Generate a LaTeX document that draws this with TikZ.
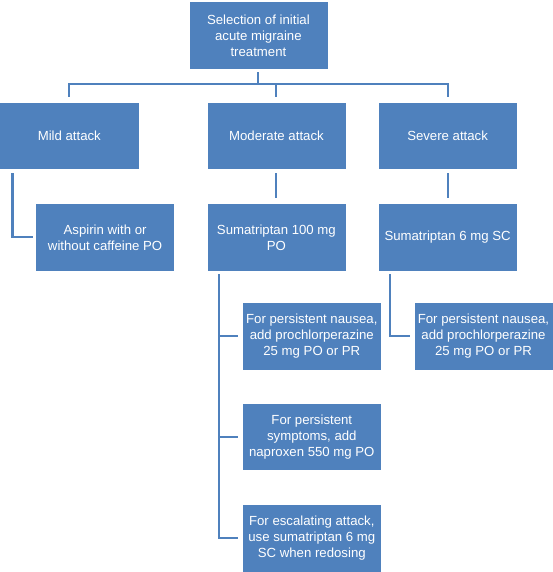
\documentclass[tikz,border=0pt]{standalone}
\usepackage{fontspec}
\setmainfont{Liberation Sans}
\definecolor{boxblue}{HTML}{4F81BD}
\begin{document}
\begin{tikzpicture}[x=1pt,y=-1pt,
  box/.style={rectangle, fill=boxblue, draw=white, line width=0.6pt,
    minimum width=139pt, minimum height=67.5pt, inner sep=2pt,
    align=center, text=white, font=\fontsize{13.2pt}{15.9pt}\selectfont},
  conn/.style={draw=boxblue, line width=2.1pt}]
\useasboundingbox (0,0) rectangle (553,572);
\node[box] (top) at (258.4,35.4) {Selection of initial\\acute migraine\\treatment};
\node[box] (mild) at (69.3,136) {Mild attack};
\node[box] (moderate) at (276.4,136) {Moderate attack};
\node[box] (severe) at (447.6,136) {Severe attack};
\node[box] (aspirin) at (105.1,237.4) {Aspirin with or\\without caffeine PO};
\node[box] (sum100) at (276.4,237.4) {Sumatriptan 100 mg\\PO};
\node[box] (sum6) at (447.6,237.4) {Sumatriptan 6 mg SC};
\node[box] (naus1) at (311.8,336.2) {For persistent nausea,\\add prochlorperazine\\25 mg PO or PR};
\node[box] (naus2) at (483.5,336.2) {For persistent nausea,\\add prochlorperazine\\25 mg PO or PR};
\node[box] (symp) at (311.8,436.7) {For persistent\\symptoms, add\\naproxen 550 mg PO};
\node[box] (esc) at (311.8,538.4) {For escalating attack,\\use sumatriptan 6 mg\\SC when redosing};
\coordinate (bus) at (0,84);
% top level tree
\draw[conn, shorten <=2.7pt, shorten >=4.6pt] (top.south) -- (top.south |- bus) -| (mild.north);
\draw[conn, shorten >=4.6pt] (top.south |- bus) -| (severe.north);
\draw[conn, shorten >=4.6pt] (moderate.north |- bus) -- (moderate.north);
% mild
\draw[conn, shorten <=3pt, shorten >=2.8pt] ([xshift=13pt]mild.south west) |- (aspirin.west);
% moderate / severe
\draw[conn, shorten <=3pt, shorten >=5.4pt] (moderate.south) -- (sum100.north);
\draw[conn, shorten <=3pt, shorten >=5.4pt] (severe.south) -- (sum6.north);
% moderate trunk
\draw[conn, shorten <=3pt, shorten >=4pt] ([xshift=12.4pt]sum100.south west) |- (esc.west);
\draw[conn, shorten >=4pt] ([xshift=12.4pt]sum100.south west |- naus1.west) -- (naus1.west);
\draw[conn, shorten >=4pt] ([xshift=12.4pt]sum100.south west |- symp.west) -- (symp.west);
% severe trunk
\draw[conn, shorten <=3pt, shorten >=3.5pt] ([xshift=12.5pt]sum6.south west) |- (naus2.west);
\end{tikzpicture}
\end{document}
